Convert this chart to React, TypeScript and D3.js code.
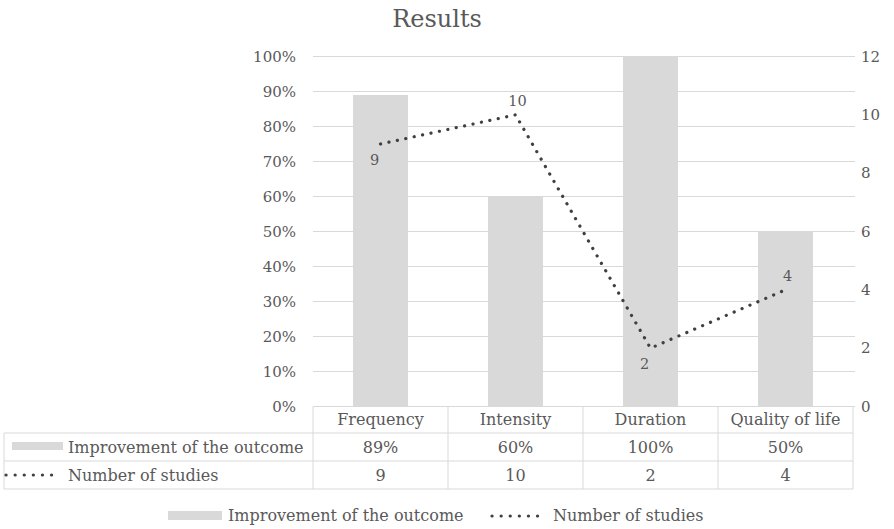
import React from 'react';
import * as d3 from 'd3';

const categories = ['Frequency', 'Intensity', 'Duration', 'Quality of life'];
const improvement = [0.89, 0.6, 1.0, 0.5];
const studies = [9, 10, 2, 4];
const studyLabelPos = ['below', 'above', 'below', 'above'];
const leftTicks = [0, 0.1, 0.2, 0.3, 0.4, 0.5, 0.6, 0.7, 0.8, 0.9, 1.0];
const rightTicks = [0, 2, 4, 6, 8, 10, 12];
const seriesNames = ['Improvement of the outcome', 'Number of studies'];

const W = 894;
const H = 529;
const FONT = '"DejaVu Serif", "Liberation Serif", serif';
const TXT = '#595959';
const GRID = '#d9d9d9';
const BAR = '#d9d9d9';
const LINE = '#404040';

export default function App() {
  const left = 313;
  const right = 853;
  const top = 56.5;
  const bottom = 406.5;

  const x = d3.scaleBand<string>().domain(categories).range([left, right]).paddingInner(0).paddingOuter(0);
  const yL = d3.scaleLinear().domain([0, 1]).range([bottom, top]);
  const yR = d3.scaleLinear().domain([0, 12]).range([bottom, top]);
  const barW = 55;
  const cx = (c: string) => (x(c) ?? 0) + x.bandwidth() / 2;

  const line = d3
    .line<number>()
    .x((_, i) => cx(categories[i]))
    .y((d) => yR(d));

  const rowTop = [bottom, 433, 461, 489];
  const tableLeft = 4;
  const fmtPct = d3.format('.0%');

  return (
    <svg width={W} height={H} style={{ position: 'absolute', left: 0, top: 0, background: '#fff' }} fontFamily={FONT}>
      <rect width={W} height={H} fill="#fff" />
      <text x={437} y={27} textAnchor="middle" fontSize={24} fill={TXT}>Results</text>

      {leftTicks.map((t) => (
        <g key={'l' + t}>
          <line x1={left} x2={right + 2} y1={yL(t)} y2={yL(t)} stroke={GRID} strokeWidth={1} />
          <text x={296} y={yL(t) + 5} textAnchor="end" fontSize={15} fill={TXT}>{fmtPct(t)}</text>
        </g>
      ))}
      {rightTicks.map((t) => (
        <text key={'r' + t} x={861} y={yR(t) + 5} textAnchor="start" fontSize={15} fill={TXT}>{t}</text>
      ))}

      {categories.map((c, i) => (
        <rect key={c} x={cx(c) - barW / 2} y={yL(improvement[i])} width={barW} height={bottom - yL(improvement[i])} fill={BAR} />
      ))}

      <path d={line(studies) ?? ''} fill="none" stroke={LINE} strokeWidth={3.2} strokeDasharray="0.1 8.5" strokeLinecap="round" />
      {studies.map((v, i) => {
        const px = cx(categories[i]);
        const py = yR(v);
        const above = studyLabelPos[i] === 'above';
        return (
          <text key={'s' + i} x={px + (above ? 2 : -6)} y={above ? py - 9 : py + 21} textAnchor="middle" fontSize={14.5} fill={TXT}>
            {v}
          </text>
        );
      })}

      {/* data table */}
      <g stroke={GRID} strokeWidth={1} fill="none">
        <line x1={left} x2={right} y1={rowTop[0]} y2={rowTop[0]} />
        {rowTop.slice(1).map((yy) => (
          <line key={yy} x1={tableLeft} x2={right} y1={yy} y2={yy} />
        ))}
        <line x1={tableLeft} x2={tableLeft} y1={rowTop[1]} y2={rowTop[3]} />
        {categories.map((c) => (
          <line key={c} x1={x(c) ?? 0} x2={x(c) ?? 0} y1={rowTop[0]} y2={rowTop[3]} />
        ))}
        <line x1={right} x2={right} y1={rowTop[0]} y2={rowTop[3]} />
      </g>
      {categories.map((c, i) => (
        <g key={'t' + c} fontSize={16} fill={TXT} textAnchor="middle">
          <text x={cx(c)} y={425}>{c}</text>
          <text x={cx(c)} y={453}>{fmtPct(improvement[i])}</text>
          <text x={cx(c)} y={481}>{studies[i]}</text>
        </g>
      ))}
      <rect x={12} y={442} width={51} height={8} fill={BAR} />
      <text x={68} y={453} fontSize={16} fill={TXT}>{seriesNames[0]}</text>
      <line x1={6} x2={60} y1={475} y2={475} stroke={LINE} strokeWidth={3.2} strokeDasharray="0.1 9" strokeLinecap="round" />
      <text x={68} y={481} fontSize={16} fill={TXT}>{seriesNames[1]}</text>

      {/* legend */}
      <rect x={168} y={511} width={54} height={9} fill={BAR} />
      <text x={228} y={521} fontSize={16} fill={TXT}>{seriesNames[0]}</text>
      <line x1={492} x2={545} y1={516} y2={516} stroke={LINE} strokeWidth={3.2} strokeDasharray="0.1 9" strokeLinecap="round" />
      <text x={553} y={521} fontSize={16} fill={TXT}>{seriesNames[1]}</text>
    </svg>
  );
}
